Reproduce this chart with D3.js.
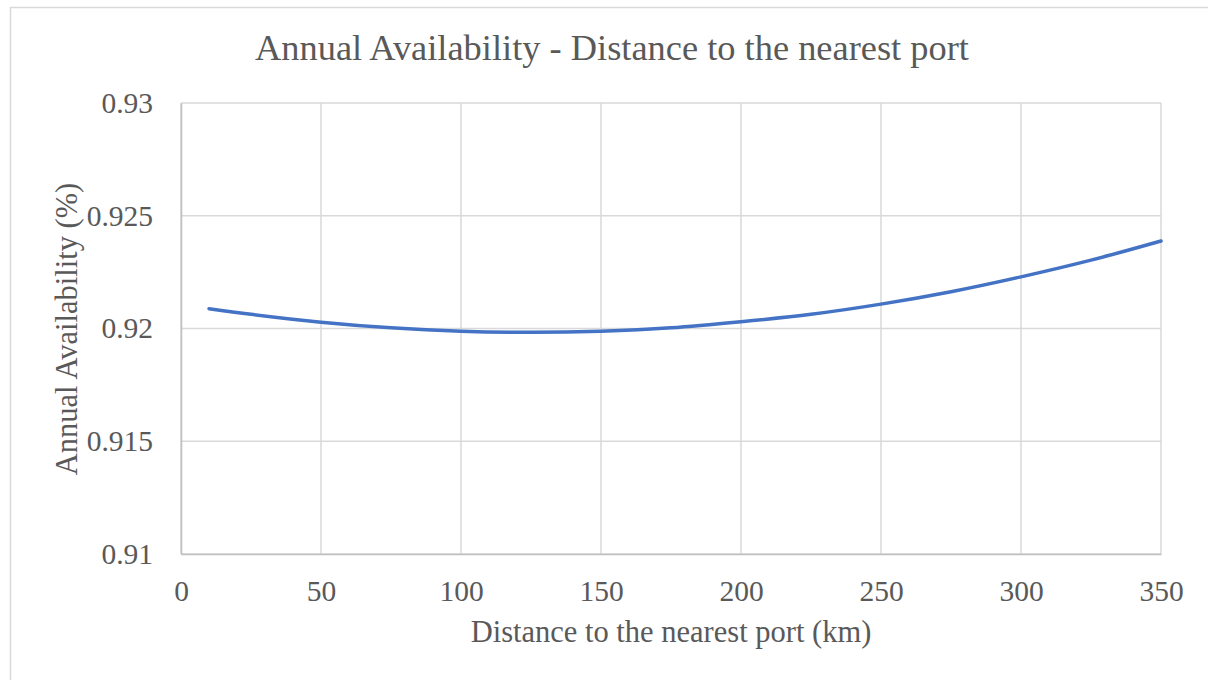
<!DOCTYPE html>
<html>
<head>
<meta charset="utf-8">
<script src="https://cdn.jsdelivr.net/npm/d3@7"></script>
<style>
  html, body { margin: 0; padding: 0; background: #fff; }
  svg { display: block; }
</style>
</head>
<body>
<svg id="chart" width="1208" height="680"></svg>
<script>
// Distance to the nearest port (km) and resulting annual availability
const distances = [10, 25, 50, 75, 100, 125, 150, 175, 200, 225, 250, 275, 300, 325, 350];
const availability = [0.92088, 0.92063, 0.92028, 0.92003, 0.91988, 0.91983, 0.91988, 0.92003,
                      0.92030, 0.92063, 0.92108, 0.92163, 0.92229, 0.92303, 0.92388];
const xTicks = [0, 50, 100, 150, 200, 250, 300, 350];
const yTicks = [0.91, 0.915, 0.92, 0.925, 0.93];

const svg = d3.select("#chart");
const W = 1208, H = 680;
const m = { left: 181, right: 1161, top: 103, bottom: 554 };
const textColor = "#595959";
const font = "'Liberation Serif', 'Times New Roman', serif";
const tickSize = 29.5, axisTitleSize = 30.5, titleSize = 36.4;

// chart frame
svg.append("rect")
  .attr("x", 10.5).attr("y", 7.5)
  .attr("width", W + 20).attr("height", H + 20)
  .attr("fill", "#fff").attr("stroke", "#d9d9d9").attr("stroke-width", 1.5);

const x = d3.scaleLinear().domain([0, 350]).range([m.left, m.right]);
const y = d3.scaleLinear().domain([0.91, 0.93]).range([m.bottom, m.top]);

// gridlines
const grid = svg.append("g");
grid.selectAll(".hg").data(yTicks).join("line")
  .attr("x1", m.left).attr("x2", m.right)
  .attr("y1", d => y(d)).attr("y2", d => y(d))
  .attr("stroke", "#d9d9d9").attr("stroke-width", 1.5);
grid.selectAll(".vg").data(xTicks).join("line")
  .attr("x1", d => x(d)).attr("x2", d => x(d))
  .attr("y1", m.top).attr("y2", m.bottom)
  .attr("stroke", "#d9d9d9").attr("stroke-width", 1.5);

// axes
const xAxis = svg.append("g")
  .attr("transform", `translate(0,${m.bottom})`)
  .call(d3.axisBottom(x).tickValues(xTicks).tickSize(0).tickPadding(26).tickFormat(d3.format("d")));
const yAxis = svg.append("g")
  .attr("transform", `translate(${m.left},0)`)
  .call(d3.axisLeft(y).tickValues(yTicks).tickSize(0).tickPadding(28).tickFormat(d => String(+d.toFixed(3))));

[xAxis, yAxis].forEach(g => {
  g.select(".domain").attr("stroke", "#bfbfbf").attr("stroke-width", 1.5);
  g.selectAll("text").attr("fill", textColor).attr("font-family", font).attr("font-size", tickSize);
});

// data line
const line = d3.line()
  .x((d, i) => x(distances[i]))
  .y(d => y(d))
  .curve(d3.curveCatmullRom);
svg.append("path")
  .datum(availability)
  .attr("d", line)
  .attr("fill", "none")
  .attr("stroke", "#4472C4")
  .attr("stroke-width", 3.5)
  .attr("stroke-linecap", "round");

// titles
svg.append("text")
  .attr("x", 612).attr("y", 60)
  .attr("text-anchor", "middle")
  .attr("fill", textColor).attr("font-family", font).attr("font-size", titleSize)
  .text("Annual Availability - Distance to the nearest port");

svg.append("text")
  .attr("x", 671).attr("y", 642)
  .attr("text-anchor", "middle")
  .attr("fill", textColor).attr("font-family", font).attr("font-size", axisTitleSize)
  .text("Distance to the nearest port (km)");

svg.append("text")
  .attr("transform", `translate(77,329) rotate(-90)`)
  .attr("text-anchor", "middle")
  .attr("fill", textColor).attr("font-family", font).attr("font-size", axisTitleSize)
  .text("Annual Availability (%)");
</script>
</body>
</html>
